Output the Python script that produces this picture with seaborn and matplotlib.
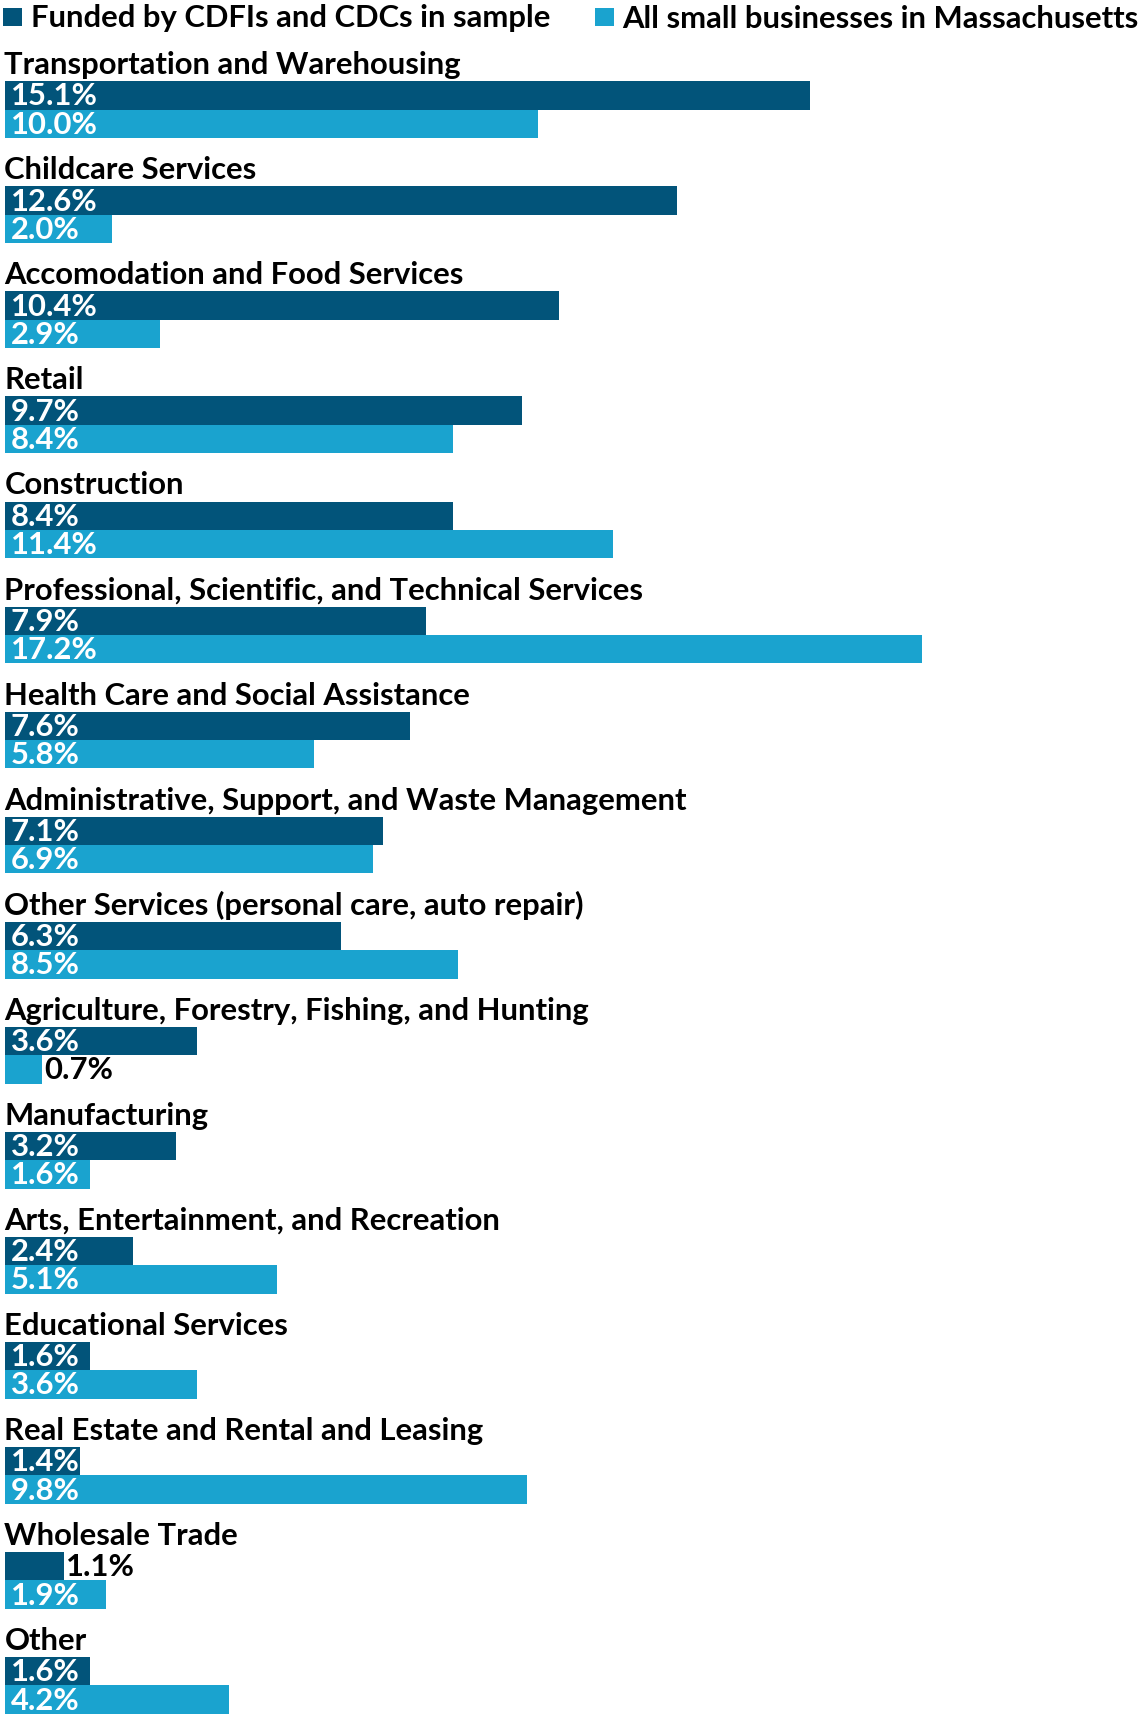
import matplotlib
matplotlib.use("Agg")
import matplotlib.pyplot as plt
from matplotlib.patches import Rectangle
import seaborn as sns
import pandas as pd

# Industry shares (%) of small businesses
categories = [
    "Transportation and Warehousing",
    "Childcare Services",
    "Accomodation and Food Services",
    "Retail",
    "Construction",
    "Professional, Scientific, and Technical Services",
    "Health Care and Social Assistance",
    "Administrative, Support, and Waste Management",
    "Other Services (personal care, auto repair)",
    "Agriculture, Forestry, Fishing, and Hunting",
    "Manufacturing",
    "Arts, Entertainment, and Recreation",
    "Educational Services",
    "Real Estate and Rental and Leasing",
    "Wholesale Trade",
    "Other",
]
funded = [15.1, 12.6, 10.4, 9.7, 8.4, 7.9, 7.6, 7.1, 6.3, 3.6, 3.2, 2.4, 1.6, 1.4, 1.1, 1.6]
all_ma = [10.0, 2.0, 2.9, 8.4, 11.4, 17.2, 5.8, 6.9, 8.5, 0.7, 1.6, 5.1, 3.6, 9.8, 1.9, 4.2]
series_names = ["Funded by CDFIs and CDCs in sample", "All small businesses in Massachusetts"]
colors = ["#02547a", "#1aa3cf"]

FONT = ["Lato", "DejaVu Sans"]
FS = 22.3
WEIGHT = "bold"

W, H = 1147, 1715
sns.set_theme(style="white")
plt.rcParams["font.family"] = FONT

df = pd.DataFrame({
    "category": categories * 2,
    "series": [series_names[0]] * len(categories) + [series_names[1]] * len(categories),
    "value": funded + all_ma,
})

fig = plt.figure(figsize=(W / 100, H / 100), dpi=100)
ax = fig.add_axes([0, 0, 1, 1])

pitch = 105.05          # pixel distance between groups
bar_px = 28.4           # pixel height of a single bar
sns.barplot(data=df, x="value", y="category", hue="series", order=categories,
            hue_order=series_names, orient="h", palette=colors, saturation=1,
            width=2 * bar_px / pitch, gap=0, dodge=True, legend=False,
            linewidth=0, ax=ax)

px_per_unit = 53.3
x0_px = 5.0
ax.set_xlim(-x0_px / px_per_unit, (W - x0_px) / px_per_unit)
c0 = 110.7
ax.set_ylim((H - c0) / pitch, -c0 / pitch)
ax.axis("off")

# Category titles above each pair of bars
for i, name in enumerate(categories):
    ax.text(-0.01, i - (bar_px + 8) / pitch, name, ha="left", va="baseline",
            fontsize=FS, fontweight=WEIGHT, color="black")

# Value labels: inside the bar when there is room, otherwise just past its end
for bar in ax.patches:
    w = bar.get_width()
    if w <= 0:
        continue
    yc = bar.get_y() + bar.get_height() / 2
    label = f"{w:.1f}%"
    if w >= 1.3:
        ax.text(6 / px_per_unit, yc, label, ha="left", va="center",
                fontsize=FS, fontweight=WEIGHT, color="white")
    else:
        ax.text(w + 2 / px_per_unit, yc, label, ha="left", va="center",
                fontsize=FS, fontweight=WEIGHT, color="black")

# Legend row across the top
def px(x, y):
    return x / W, 1 - y / H

sq = 18.6
for (sx, tx), name, col in zip([(3.3, 30.6), (595, 622)], series_names, colors):
    fig.patches.append(Rectangle(px(sx, 27.3), sq / W, sq / H, transform=fig.transFigure,
                                 facecolor=col, edgecolor="none"))
    fig.text(*px(tx, 18.5), name, ha="left", va="center", fontsize=FS,
             fontweight=WEIGHT, color="black")

fig.savefig("out.png", dpi=100)
